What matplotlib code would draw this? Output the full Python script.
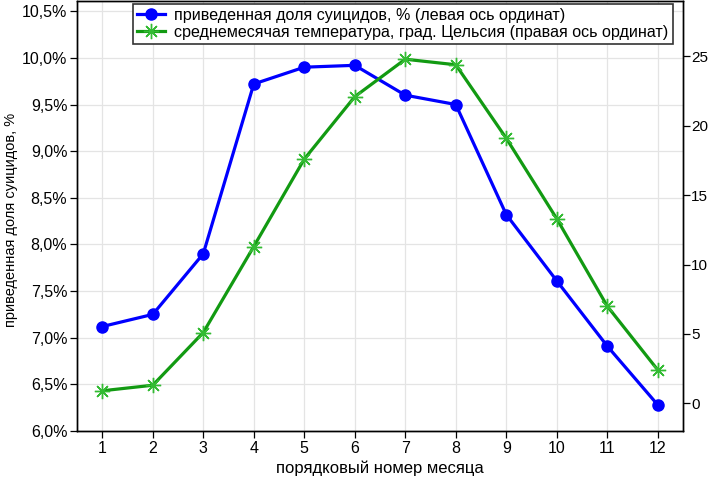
import matplotlib
matplotlib.use("Agg")
import matplotlib.pyplot as plt

plt.rcParams['font.family'] = ['Liberation Sans', 'DejaVu Sans']

months = list(range(1, 13))
suicide_share = [7.12, 7.25, 7.90, 9.72, 9.90, 9.92, 9.60, 9.50, 8.32, 7.61, 6.91, 6.28]
temperature = [0.9, 1.3, 5.1, 11.3, 17.6, 22.1, 24.8, 24.4, 19.1, 13.3, 7.0, 2.4]
left_ticks = [6.0, 6.5, 7.0, 7.5, 8.0, 8.5, 9.0, 9.5, 10.0, 10.5]
right_ticks = [0, 5, 10, 15, 20, 25]

label_blue = "приведенная доля суицидов, % (левая ось ординат)"
label_green = "среднемесячая температура, град. Цельсия (правая ось ординат)"

fig = plt.figure(figsize=(7.08, 4.78), dpi=100)
ax = fig.add_axes([0.1088, 0.0983, 0.8559, 0.8997])
ax2 = ax.twinx()

blue = '#0000ff'
green = '#129a12'

l1, = ax.plot(months, suicide_share, color=blue, lw=2.3, marker='o', ms=8,
              markerfacecolor=blue, markeredgecolor=blue, zorder=3)
l2, = ax2.plot(months, temperature, color=green, lw=2.3, marker=(8, 2, 0), ms=11,
               markeredgecolor='#33bb33', markeredgewidth=1.0, zorder=3)

ax.set_xlim(0.5, 12.5)
ax.set_ylim(6.0, 10.61)
ax2.set_ylim(-2.0, 29.0)
ax.set_xticks(months)
ax.set_yticks(left_ticks)
ax.set_yticklabels([f"{v:.1f}%".replace('.', ',') for v in left_ticks])
ax2.set_yticks(right_ticks)

ax.grid(True, color='#e4e4e4', lw=0.9)
ax.set_axisbelow(True)

for a in (ax, ax2):
    a.tick_params(labelsize=11.5, length=5, width=0.9, colors='black', direction='out')
    for s in a.spines.values():
        s.set_linewidth(1.0)
ax.tick_params(axis='x', pad=2)
ax.tick_params(axis='y', pad=2)
ax2.tick_params(axis='y', pad=1, labelsize=11)

ax.set_xlabel("порядковый номер месяца", fontsize=12)
ax.xaxis.set_label_coords(0.5, -0.068)
ax.set_ylabel("приведенная доля суицидов, %", fontsize=10.5)
ax.yaxis.set_label_coords(-0.097, 0.49)

leg = ax.legend([l1, l2], [label_blue, label_green], loc='upper center',
                bbox_to_anchor=(0.538, 0.993), fontsize=11.6, frameon=True,
                fancybox=False, edgecolor='#333333', framealpha=1,
                handlelength=1.7, borderpad=0.25, labelspacing=0.1,
                handletextpad=0.6, borderaxespad=0)
leg.get_frame().set_linewidth(1.2)
leg.set_zorder(10)

fig.savefig("out.png", dpi=100)
